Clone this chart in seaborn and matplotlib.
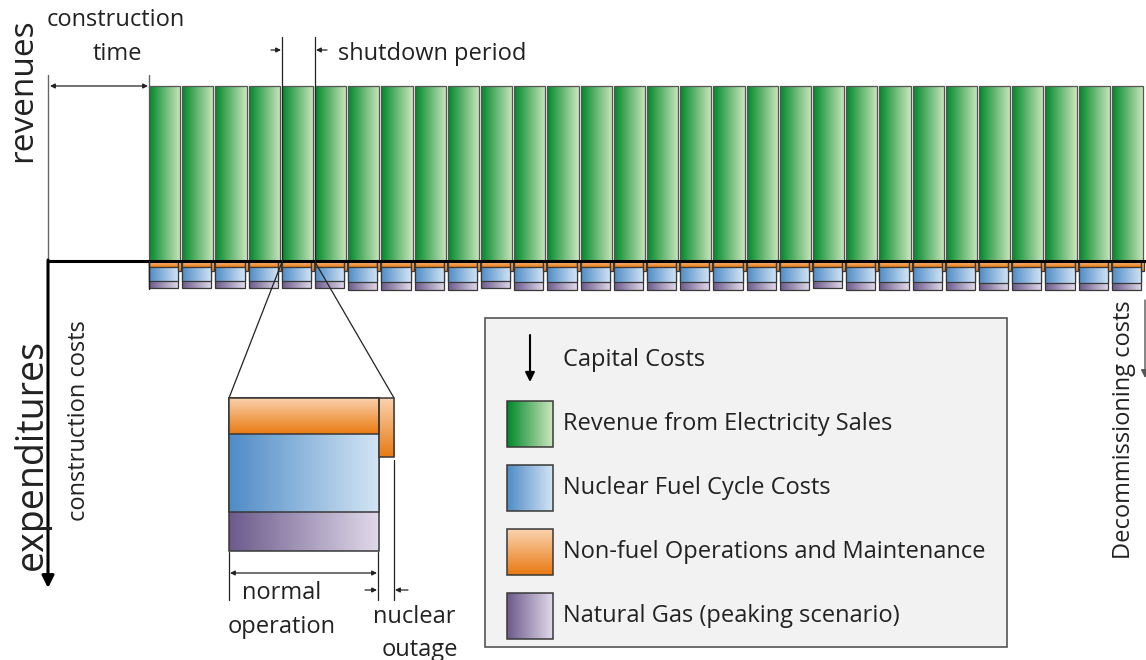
import numpy as np
import matplotlib
matplotlib.use("Agg")
import matplotlib.pyplot as plt
import seaborn as sns
from matplotlib.colors import LinearSegmentedColormap
from matplotlib.patches import Rectangle

# ---- data (schematic cash flow of a nuclear plant) ----
# years 0-2 are construction, plant operates from year 3 to year 32
years = np.arange(3, 33)
revenue = [100, 100, 100, 100, 100, 100, 100, 100, 100, 100,
           100, 100, 100, 100, 100, 100, 100, 100, 100, 100,
           100, 100, 100, 100, 100, 100, 100, 100, 100, 100]
om_cost = [3.7, 3.7, 3.7, 3.7, 3.7, 3.7, 3.7, 3.7, 3.7, 3.7,
           3.7, 3.7, 3.7, 3.7, 3.7, 3.7, 3.7, 3.7, 3.7, 3.7,
           3.7, 3.7, 3.7, 3.7, 3.7, 3.7, 3.7, 3.7, 3.7, 3.7]
fuel_cost = [7.8, 7.8, 7.8, 7.8, 7.8, 7.8, 8.3, 8.3, 8.3, 8.3,
             7.8, 8.3, 8.3, 8.3, 8.3, 8.3, 8.3, 8.3, 8.3, 8.3,
             7.8, 8.3, 8.3, 8.3, 8.3, 8.6, 8.6, 8.6, 8.6, 8.6]
gas_cost = [4, 4, 4, 4, 4, 4, 4.5, 4.5, 4.5, 4.5,
            4, 4.5, 4.5, 4.5, 4.5, 4.5, 4.5, 4.5, 4.5, 4.5,
            4, 4.5, 4.5, 4.5, 4.5, 4.5, 4.5, 4.5, 4.5, 4.5]
outage_om = [6, 6, 6, 6, 6, 6, 6, 6, 6, 6,
             6, 6, 6, 6, 6, 6, 6, 6, 6, 6,
             6, 6, 6, 6, 6, 6, 6, 6, 6, 6]
zoom_year = 7  # year shown enlarged

legend_labels = ["Revenue from Electricity Sales", "Nuclear Fuel Cycle Costs",
                 "Non-fuel Operations and Maintenance", "Natural Gas (peaking scenario)"]

# gradient colours (dark end, light end)
GREEN = ("#00892a", "#cde6bf")
BLUE = ("#4f8cc6", "#d3e4f5")
ORANGE = ("#e97a12", "#fbd3b0")
PURPLE = ("#6c5a8c", "#e0d9e9")
EDGE = "#383838"

W, H = 1146, 660


def gradient(ax, patch, colors, vertical=False):
    x, y = patch.get_x(), patch.get_y()
    w, h = patch.get_width(), patch.get_height()
    x1, x2 = sorted([x, x + w])
    y1, y2 = sorted([y, y + h])
    if ax.yaxis_inverted():
        y1, y2 = y2, y1
    ramp = np.linspace(0, 1, 128)
    img = ramp[:, None] if vertical else ramp[None, :]
    cmap = LinearSegmentedColormap.from_list("g", list(colors))
    im = ax.imshow(img, cmap=cmap, extent=(x1, x2, y1, y2), origin="lower",
                   aspect="auto", interpolation="bilinear",
                   zorder=patch.get_zorder() - 0.01)
    im.set_clip_path(patch)
    patch.set_facecolor("none")


def bars(ax, x, h, width, colors, z, vertical=False, edge=EDGE, lw=0.9):
    n0 = len(ax.patches)
    sns.barplot(x=x, y=h, native_scale=True, width=width, color=colors[0],
                edgecolor=edge, linewidth=lw, errorbar=None, ax=ax, zorder=z)
    for p in ax.patches[n0:]:
        gradient(ax, p, colors, vertical)


def cost_bars(ax, x, om, fuel, gas, outage, lw=0.9):
    om, fuel, gas = np.asarray(om), np.asarray(fuel), np.asarray(gas)
    x = np.asarray(x)
    # layered from the deepest segment up, so each stack reads top-down
    bars(ax, x - 0.03, -(om + fuel + gas), 0.88, PURPLE, 2, lw=lw)
    bars(ax, x - 0.03, -(om + fuel), 0.88, BLUE, 3, lw=lw)
    bars(ax, x - 0.03, -om, 0.88, ORANGE, 4, vertical=True, lw=lw)
    bars(ax, x + 0.455, -np.asarray(outage), 0.09, ORANGE, 4, vertical=True, lw=lw)


sns.set_theme(style="white")
plt.rcParams["font.family"] = ["Open Sans", "DejaVu Sans"]

fig = plt.figure(figsize=(W / 100, H / 100), dpi=100)

# ---- main axes: 33.2 px per year, 1.75 px per unit ----
ax = fig.add_axes([0, 0, 1, 1])
bars(ax, years, revenue, 0.94, GREEN, 2, edge="#555555")
cost_bars(ax, years, om_cost, fuel_cost, gas_cost, outage_om)
x_left = 2.53 - 149 / 33.2
ax.set_xlim(x_left, x_left + W / 33.2)
ax.set_ylim(-(H - 261) / 1.75, 261 / 1.75)
ax.axis("off")

# ---- enlarged view of one year ----
i = list(years).index(zoom_year)
ins = fig.add_axes([227 / W, 1 - 553 / H, 169 / W, 157 / H], zorder=6)
cost_bars(ins, years[i:i + 1], om_cost[i:i + 1], fuel_cost[i:i + 1],
          gas_cost[i:i + 1], outage_om[i:i + 1], lw=1.1)
tot = om_cost[i] + fuel_cost[i] + gas_cost[i]
ins.set_xlim(zoom_year - 0.482, zoom_year + 0.512)
ins.set_ylim(-tot * 1.01, tot * 0.01)
ins.axis("off")

# ---- overlay in pixel coordinates for annotations ----
ov = fig.add_axes([0, 0, 1, 1], zorder=5)
ov.set_xlim(0, W)
ov.set_ylim(H, 0)
ov.axis("off")

FS = 17
dark = "#222222"
thin = dict(color=dark, lw=0.9)


def arrow(x1, y1, x2, y2, style="-|>", lw=0.9, ms=10, color=dark):
    ov.annotate("", xy=(x2, y2), xytext=(x1, y1),
                arrowprops=dict(arrowstyle=style, lw=lw, color=color,
                                mutation_scale=ms, shrinkA=0, shrinkB=0))


# axes lines
ov.plot([48, W], [261, 261], color="black", lw=2.2, solid_capstyle="butt")
arrow(48, 260, 48, 588, lw=2.2, ms=18, color="black")
ov.plot([48, 48], [75, 261], color="#666666", lw=1)
ov.plot([149, 149], [75, 88], color="#666666", lw=1)
ov.plot([149, 149], [261, 289], color=dark, lw=1)

# construction time
arrow(148, 86, 50, 86, style="<|-|>", ms=7)
ov.text(116, 20, "construction", fontsize=FS, ha="center", va="center", color=dark)
ov.text(117, 54, "time", fontsize=FS, ha="center", va="center", color=dark)

# shutdown period
ov.plot([282, 282], [37, 261], **thin)
ov.plot([315, 315], [37, 261], **thin)
arrow(271, 50, 281, 50, ms=7)
arrow(327, 50, 316, 50, ms=7)
ov.text(338, 54, "shutdown period", fontsize=FS, ha="left", va="center", color=dark)

# zoom lines
ov.plot([282, 229], [262, 398], **thin)
ov.plot([315, 394], [262, 398], **thin)

# inset dimensions
ov.plot([229, 229], [552, 600], **thin)
ov.plot([378, 378], [552, 600], **thin)
ov.plot([394, 394], [460, 600], **thin)
arrow(377, 573, 230, 573, style="<|-|>", ms=7)
arrow(365, 590, 377, 590, ms=7)
arrow(408, 590, 395, 590, ms=7)
ov.text(282, 593, "normal", fontsize=FS, ha="center", va="center", color=dark)
ov.text(282, 627, "operation", fontsize=FS, ha="center", va="center", color=dark)
ov.text(414, 617, "nuclear", fontsize=FS, ha="center", va="center", color=dark)
ov.text(420, 650, "outage", fontsize=FS, ha="center", va="center", color=dark)

# axis titles
ov.text(23, 90, "revenues", fontsize=24, rotation=90, ha="center", va="center", color=dark)
ov.text(32, 455, "expenditures", fontsize=27, rotation=90, ha="center", va="center", color=dark)
ov.text(79, 421, "construction costs", fontsize=FS, rotation=90, ha="center", va="center", color=dark)
ov.text(1124, 430, "Decommissioning costs", fontsize=FS, rotation=90, ha="center", va="center", color=dark)
arrow(1145, 300, 1145, 378, lw=1, ms=12, color="#555555")

# legend box
ov.add_patch(Rectangle((485, 318), 522, 329, facecolor="#f2f2f2",
                       edgecolor="#555555", lw=1.2, zorder=1))
arrow(530, 335, 530, 382, lw=1.5, ms=14, color="black")
ov.text(563, 360, "Capital Costs", fontsize=FS, ha="left", va="center", color=dark)
for k, (lab, cols) in enumerate(zip(legend_labels, [GREEN, BLUE, ORANGE, PURPLE])):
    yc = 424 + 64 * k
    sq = Rectangle((507, yc - 23), 46, 46, edgecolor=EDGE, lw=1.1, zorder=3)
    ov.add_patch(sq)
    gradient(ov, sq, cols, vertical=(cols == ORANGE))
    ov.text(563, yc, lab, fontsize=FS, ha="left", va="center", color=dark)
ov.set_xlim(0, W)
ov.set_ylim(H, 0)

fig.savefig("out.png", dpi=100)
